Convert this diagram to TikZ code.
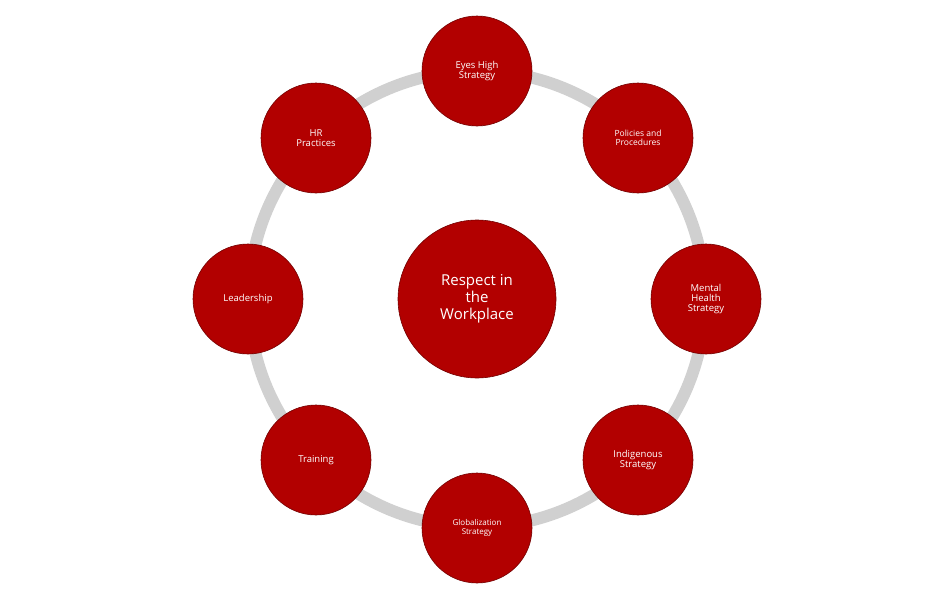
\documentclass[tikz,border=0pt]{standalone}
\usepackage{fontspec}
\setmainfont{Open Sans}
\begin{document}
\begin{tikzpicture}[x=1pt,y=-1pt,
  sat/.style={circle,fill=red!70!black,draw=red!45!black,line width=0.6pt,minimum size=110pt,inner sep=0pt,text=white,font=\fontsize{9.5}{10}\selectfont,align=center},
  hub/.style={circle,fill=red!70!black,draw=red!45!black,line width=0.6pt,minimum size=158pt,inner sep=0pt,text=white,font=\fontsize{15}{17}\selectfont,align=center}]
\definecolor{ring}{RGB}{208,208,208}
\useasboundingbox (0,0) rectangle (950,605);
\draw[ring,line width=12pt] (477,299) circle (228);
\node[hub] (c) at (477,299) {Respect in\\the\\Workplace};
\node[sat] (a) at (477,71) {Eyes High\\Strategy};
\node[sat,font=\fontsize{8.5}{9.5}\selectfont] (b) at (638,138) {Policies and\\Procedures};
\node[sat] (m) at (706,299) {Mental\\Health\\Strategy};
\node[sat] (i) at (638,460) {Indigenous\\Strategy};
\node[sat,font=\fontsize{8}{9}\selectfont] (g) at (477,528) {Globalization\\Strategy};
\node[sat] (t) at (316,460) {Training};
\node[sat] (l) at (248,299) {Leadership};
\node[sat] (h) at (316,138) {HR\\Practices};
\end{tikzpicture}
\end{document}
